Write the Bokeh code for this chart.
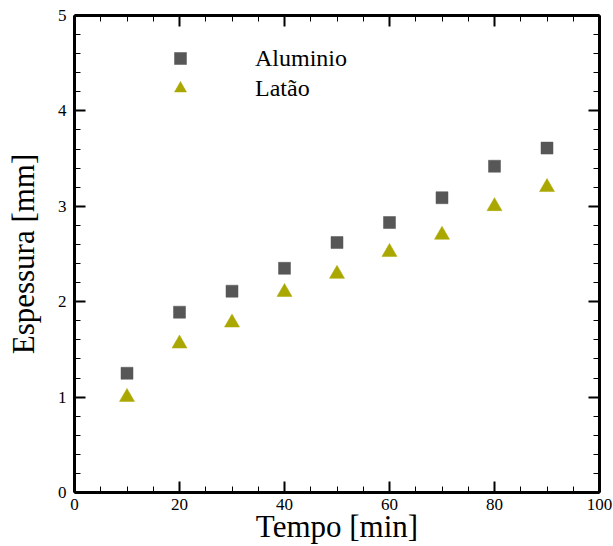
from bokeh.plotting import figure
from bokeh.models import (Range1d, LinearAxis, SingleIntervalTicker, Legend,
                          LegendItem, ColumnDataSource, CustomJSTickFormatter)
from bokeh.embed import file_html
from bokeh.resources import INLINE

# ---- data ----
tempo = [10, 20, 30, 40, 50, 60, 70, 80, 90]
aluminio = [1.25, 1.89, 2.11, 2.35, 2.62, 2.83, 3.09, 3.42, 3.61]
latao = [1.00, 1.56, 1.78, 2.10, 2.29, 2.52, 2.70, 3.00, 3.20]
series_names = ["Aluminio", "Latão"]
x_title = "Tempo [min]"
y_title = "Espessura [mm]"

FONT = "Liberation Serif"

p = figure(width=613, height=546, output_backend="svg", toolbar_location=None,
           x_range=Range1d(0, 100), y_range=Range1d(0, 5),
           x_axis_location=None, y_axis_location=None,
           min_border_left=74, min_border_right=14, min_border_top=15,
           min_border_bottom=53)
p.xgrid.visible = False
p.ygrid.visible = False
p.outline_line_color = None
p.background_fill_color = "white"
p.border_fill_color = "white"

src = ColumnDataSource(dict(t=tempo, al=aluminio, la=latao))
r_al = p.scatter("t", "al", source=src, marker="square", size=12,
                 fill_color="#575757", line_color="#575757", line_width=0.5)
r_la = p.scatter("t", "la", source=src, marker="triangle", size=15,
                 fill_color="#aaa800", line_color="#aaa800", line_width=0.5)


def style_axis(ax, labels=True):
    ax.axis_line_width = 3
    ax.axis_line_color = "black"
    ax.major_tick_in = 11
    ax.major_tick_out = 0
    ax.major_tick_line_width = 2
    ax.minor_tick_in = 6
    ax.minor_tick_out = 0
    ax.minor_tick_line_width = 1
    if labels:
        ax.major_label_text_font = FONT
        ax.major_label_text_font_style = "normal"
        ax.major_label_text_font_size = "17px"
        ax.major_label_text_color = "black"
    else:
        ax.formatter = CustomJSTickFormatter(code="return ''")
        ax.major_label_standoff = 0


xt = SingleIntervalTicker(interval=20, num_minor_ticks=4)
yt = SingleIntervalTicker(interval=1, num_minor_ticks=5)

xb = LinearAxis(ticker=xt, axis_label=x_title)
style_axis(xb)
xb.major_label_standoff = 6
xb.axis_label_text_font = FONT
xb.axis_label_text_font_size = "31px"
xb.axis_label_text_font_style = "normal"
xb.axis_label_text_color = "black"
xb.axis_label_standoff = -4
p.add_layout(xb, "below")

yl = LinearAxis(ticker=yt, axis_label=y_title)
style_axis(yl)
yl.major_label_standoff = 8
yl.axis_label_text_font = FONT
yl.axis_label_text_font_size = "31px"
yl.axis_label_text_font_style = "normal"
yl.axis_label_text_color = "black"
yl.axis_label_standoff = 14
p.add_layout(yl, "left")

xtop = LinearAxis(ticker=SingleIntervalTicker(interval=20, num_minor_ticks=4))
style_axis(xtop, labels=False)
p.add_layout(xtop, "above")

yr = LinearAxis(ticker=SingleIntervalTicker(interval=1, num_minor_ticks=5))
style_axis(yr, labels=False)
p.add_layout(yr, "right")

legend = Legend(items=[LegendItem(label=series_names[0], renderers=[r_al]),
                       LegendItem(label=series_names[1], renderers=[r_la])],
                location=(91, 389))
legend.glyph_width = 30
legend.glyph_height = 30
legend.label_height = 30
legend.spacing = 0
legend.padding = 0
legend.margin = 0
legend.label_standoff = 60
legend.border_line_color = None
legend.background_fill_alpha = 0
legend.label_text_font = FONT
legend.label_text_font_style = "normal"
legend.label_text_font_size = "24px"
legend.label_text_color = "black"
p.add_layout(legend, "center")

open("out.html", "w").write(file_html(p, INLINE))
